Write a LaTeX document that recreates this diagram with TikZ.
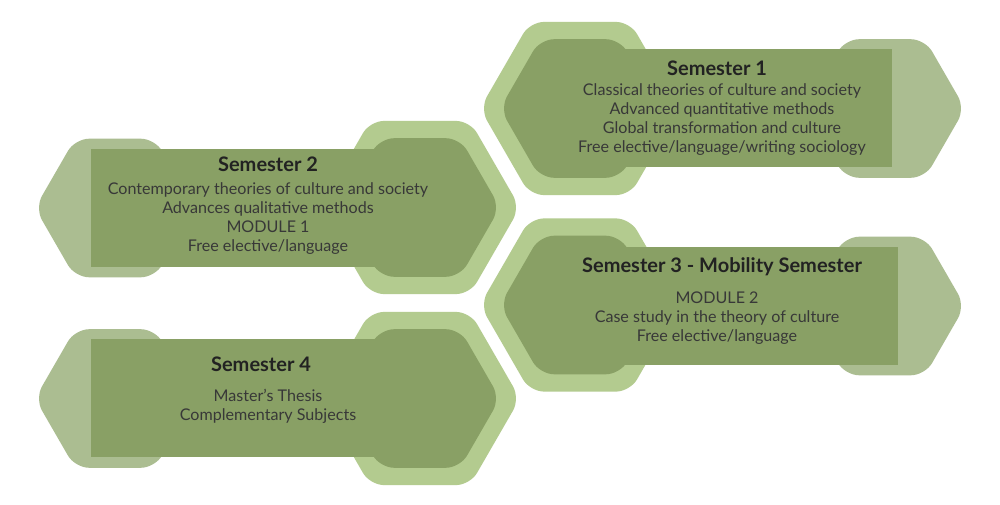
\documentclass[tikz,border=0pt]{standalone}
\usepackage{fontspec}
\setmainfont{Lato}
\definecolor{lightg}{HTML}{B3CB8F}
\definecolor{darkg}{HTML}{89A065}
\definecolor{grayg}{HTML}{ABBD91}
\definecolor{bodytxt}{HTML}{383838}
\definecolor{titletxt}{HTML}{222222}
\newcommand{\hexshape}[4]{%
  \fill[#1,rounded corners=14pt] ({#2-#4},#3) -- ({#2-#4/2},{#3-0.866*#4}) -- ({#2+#4/2},{#3-0.866*#4}) -- ({#2+#4},#3) -- ({#2+#4/2},{#3+0.866*#4}) -- ({#2-#4/2},{#3+0.866*#4}) -- cycle;}
\tikzset{
  titlebox/.style={text=titletxt,font=\fontsize{20}{23}\selectfont\bfseries,inner sep=0pt},
  bodybox/.style={text=bodytxt,font=\fontsize{16.1}{19}\selectfont,align=center,inner sep=0pt}
}
\begin{document}
\begin{tikzpicture}[x=1pt,y=-1pt]
\useasboundingbox[fill=white] (0,0) rectangle (1000,505);
% Semester 1
\hexshape{lightg}{580}{108.5}{100}
\hexshape{grayg}{885}{108.5}{80}
\hexshape{darkg}{580}{108.5}{80}
\fill[darkg] (600,49) rectangle (892,167);
% Semester 2
\hexshape{lightg}{420}{207.5}{100}
\hexshape{grayg}{115}{208}{80}
\hexshape{darkg}{420}{207.5}{80}
\fill[darkg] (91,149) rectangle (400,267);
% Semester 3
\hexshape{lightg}{580}{305}{100}
\hexshape{grayg}{885}{306}{80}
\hexshape{darkg}{580}{305}{80}
\fill[darkg] (600,247) rectangle (898,365);
% Semester 4
\hexshape{lightg}{420}{398.5}{100}
\hexshape{grayg}{115}{398.5}{80}
\hexshape{darkg}{420}{398.5}{80}
\fill[darkg] (91,339) rectangle (400,457);
% Texts
\node[titlebox] (t1) at (717,68.5) {Semester 1};
\node[bodybox] (b1) at (722,119.5) {Classical theories of culture and society\\Advanced quantitative methods\\Global transformation and culture\\Free elective/language/writing sociology};
\node[titlebox] (t2) at (268,164.5) {Semester 2};
\node[bodybox] (b2) at (268,219) {Contemporary theories of culture and society\\Advances qualitative methods\\MODULE 1\\Free elective/language};
\node[titlebox] (t3) at (722,266.5) {Semester 3 - Mobility Semester};
\node[bodybox] (b3) at (717,318) {MODULE 2\\Case study in the theory of culture\\Free elective/language};
\node[titlebox] (t4) at (261,364.5) {Semester 4};
\node[bodybox] (b4) at (268,406) {Master’s Thesis\\Complementary Subjects};
\end{tikzpicture}
\end{document}
